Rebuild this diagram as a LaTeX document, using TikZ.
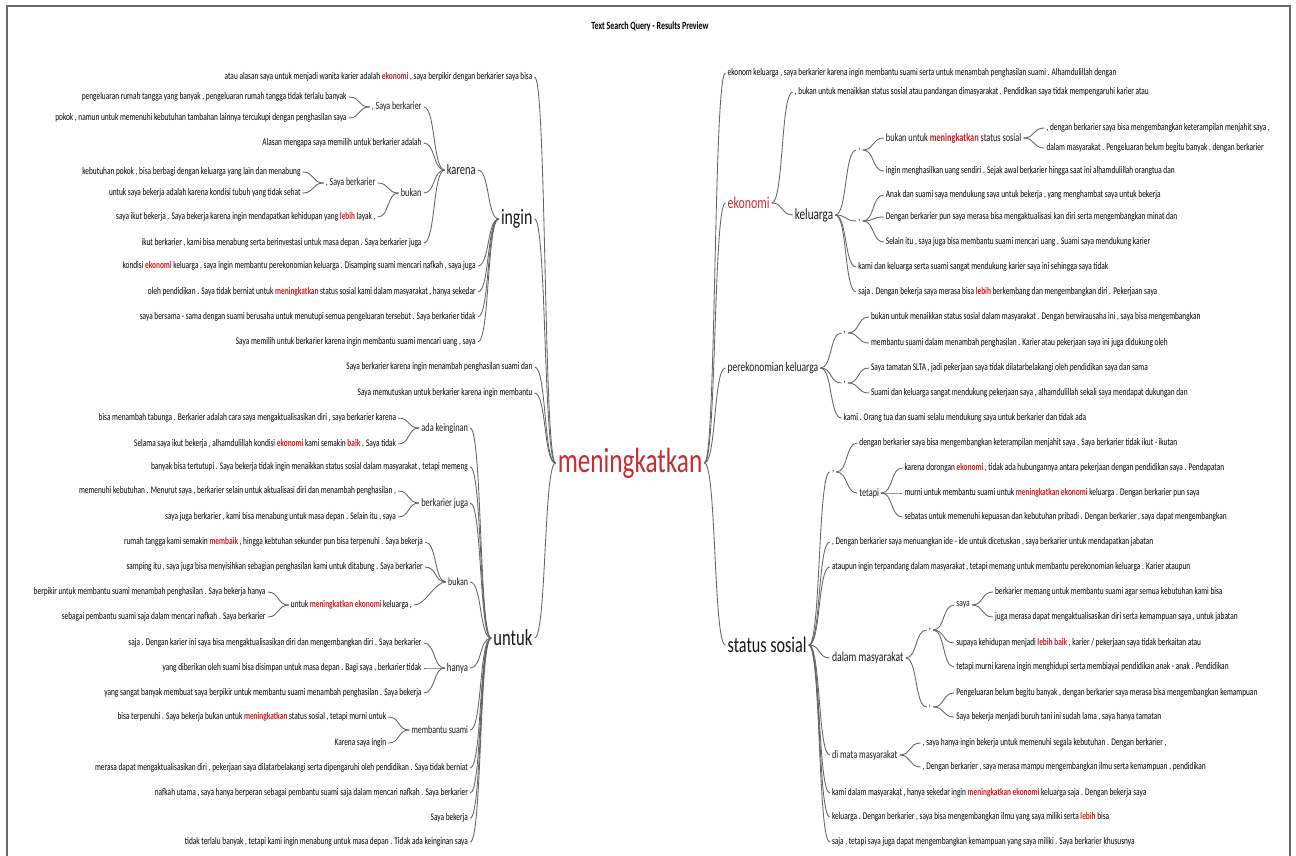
\documentclass[tikz,border=0pt]{standalone}
\usepackage{fontspec}
\setmainfont{Carlito}[FakeStretch=0.72]

\definecolor{hitred}{RGB}{200,30,35}
\definecolor{rootred}{RGB}{196,44,50}
\definecolor{linkgray}{RGB}{100,100,100}
\definecolor{framegray}{RGB}{105,105,105}

\newcommand{\hit}[1]{{\bfseries\color{hitred}#1}}

\begin{document}
\begin{tikzpicture}[
x=1pt, y=-1pt,
word/.style={
inner sep=2pt,
font=\fontsize{10.2}{12}\selectfont,
text=black
},
twig/.style={
inner sep=2pt,
font=\fontsize{11.5}{13}\selectfont,
text=black!90
},
rootword/.style={
inner sep=2pt,
font=\fontsize{35}{40}\selectfont,
text=rootred
},
toleft/.style={anchor=east, xshift=-21pt},
toright/.style={anchor=west, xshift=21pt},
link/.style={
draw=linkgray,
line width=0.85pt,
to path={.. controls +(12,0) and +(-12,0) .. (\tikztotarget)}
}
]

\useasboundingbox (0,0) rectangle (1296,856);

% frame and title
\draw[framegray, line width=1.5pt] (7,856) -- (7,6) -- (1290,6) -- (1290,856);
\node[font=\bfseries\fontsize{11}{13}\selectfont] (title) at (650,27) {Text Search Query - Results Preview};


% root
\node[rootword] (root) at (630,463) {meningkatkan};


% left side
\node[word,toleft] (l0) at (root.west |- 0,77) {atau alasan saya untuk menjadi wanita karier adalah \hit{ekonomi} , saya berpikir dengan berkarier saya bisa};
\node[twig,toleft,font=\fontsize{22}{24}\selectfont] (ingin) at (root.west |- 0,219) {ingin};
\node[word,toleft] (l12) at (root.west |- 0,367) {Saya berkarier karena ingin menambah penghasilan suami dan};
\node[word,toleft] (l13) at (root.west |- 0,393) {Saya memutuskan untuk berkarier karena ingin membantu};
\node[twig,toleft,font=\fontsize{23}{25}\selectfont] (untuk) at (root.west |- 0,638) {untuk};

% ingin
\node[twig,toleft,font=\fontsize{14.5}{16}\selectfont] (karena) at (ingin.west |- 0,170) {karena};
\node[word,toleft] (l8) at (ingin.west |- 0,266) {kondisi \hit{ekonomi} keluarga , saya ingin membantu perekonomian keluarga . Disamping suami mencari nafkah , saya juga};
\node[word,toleft] (l9) at (ingin.west |- 0,292) {oleh pendidikan . Saya tidak berniat untuk \hit{meningkatkan} status sosial kami dalam masyarakat , hanya sekedar};
\node[word,toleft] (l10) at (ingin.west |- 0,317) {saya bersama - sama dengan suami berusaha untuk menutupi semua pengeluaran tersebut . Saya berkarier tidak};
\node[word,toleft] (l11) at (ingin.west |- 0,342) {Saya memilih untuk berkarier karena ingin membantu suami mencari uang , saya};

% karena
\node[twig,toleft,font=\fontsize{11}{13}\selectfont] (sb1) at (karena.west |- 0,107) {, Saya berkarier};
\node[word,toleft] (l1) at (sb1.west |- 0,97) {pengeluaran rumah tangga yang banyak , pengeluaran rumah tangga tidak terlalu banyak};
\node[word,toleft] (l2) at (sb1.west |- 0,118) {pokok , namun untuk memenuhi kebutuhan tambahan lainnya tercukupi dengan penghasilan saya};
\node[word,toleft] (l3) at (karena.west |- 0,143) {Alasan mengapa saya memilih untuk berkarier adalah};
\node[twig,toleft] (bukan1) at (karena.west |- 0,193) {bukan};
\node[twig,toleft,font=\fontsize{11}{13}\selectfont] (sb2) at (bukan1.west |- 0,183) {, Saya berkarier};
\node[word,toleft] (l4) at (sb2.west |- 0,172) {kebutuhan pokok , bisa berbagi dengan keluarga yang lain dan menabung};
\node[word,toleft] (l5) at (sb2.west |- 0,193) {untuk saya bekerja adalah karena kondisi tubuh yang tidak sehat};
\node[word,toleft] (l6) at (bukan1.west |- 0,217) {saya ikut bekerja . Saya bekerja karena ingin mendapatkan kehidupan yang \hit{lebih} layak ,};
\node[word,toleft] (l7) at (karena.west |- 0,243) {ikut berkarier , kami bisa menabung serta berinvestasi untuk masa depan . Saya berkarier juga};

% untuk
\node[twig,toleft] (adak) at (untuk.west |- 0,428) {ada keinginan};
\node[word,toleft] (l14) at (adak.west |- 0,418) {bisa menambah tabunga . Berkarier adalah cara saya mengaktualisasikan diri , saya berkarier karena};
\node[word,toleft] (l15) at (adak.west |- 0,444) {Selama saya ikut bekerja , alhamdulillah kondisi \hit{ekonomi} kami semakin \hit{baik} . Saya tidak};
\node[word,toleft] (l16) at (untuk.west |- 0,467) {banyak bisa tertutupi . Saya bekerja tidak ingin menaikkan status sosial dalam masyarakat , tetapi memeng};
\node[twig,toleft] (bjuga) at (untuk.west |- 0,503) {berkarier juga};
\node[word,toleft] (l17) at (bjuga.west |- 0,491) {memenuhi kebutuhan . Menurut saya , berkarier selain untuk aktualisasi diri dan menambah penghasilan ,};
\node[word,toleft] (l18) at (bjuga.west |- 0,517) {saya juga berkarier , kami bisa menabung untuk masa depan . Selain itu , saya};
\node[twig,toleft,font=\fontsize{11}{13}\selectfont] (bukan2) at (untuk.west |- 0,582) {bukan};
\node[word,toleft] (l19) at (bukan2.west |- 0,542) {rumah tangga kami semakin \hit{membaik} , hingga kebtuhan sekunder pun bisa terpenuhi . Saya bekerja};
\node[word,toleft] (l20) at (bukan2.west |- 0,567) {samping itu , saya juga bisa menyisihkan sebagian penghasilan kami untuk ditabung . Saya berkarier};
\node[word,toleft,xshift=-11pt] (uk) at (bukan2.west |- 0,605) {untuk \hit{meningkatkan ekonomi} keluarga ,};
\node[word,toleft] (l21) at (uk.west |- 0,592) {berpikir untuk membantu suami menambah penghasilan . Saya bekerja hanya};
\node[word,toleft] (l22) at (uk.west |- 0,617) {sebagai pembantu suami saja dalam mencari nafkah . Saya berkarier};
\node[twig,toleft,font=\fontsize{12}{14}\selectfont] (hanya) at (untuk.west |- 0,668) {hanya};
\node[word,toleft] (l23) at (hanya.west |- 0,643) {saja . Dengan karier ini saya bisa mengaktualisasikan diri dan mengembangkan diri . Saya berkarier};
\node[word,toleft] (l24) at (hanya.west |- 0,668) {yang diberikan oleh suami bisa disimpan untuk masa depan . Bagi saya , berkarier tidak};
\node[word,toleft] (l25) at (hanya.west |- 0,693) {yang sangat banyak membuat saya berpikir untuk membantu suami menambah penghasilan . Saya bekerja};
\node[twig,toleft,font=\fontsize{11}{13}\selectfont] (msuami) at (untuk.west |- 0,730) {membantu suami};
\node[word,toleft] (l26) at (msuami.west |- 0,717) {bisa terpenuhi . Saya bekerja bukan untuk \hit{meningkatkan} status sosial , tetapi murni untuk};
\node[word,toleft] (l27) at (msuami.west |- 0,743) {Karena saya ingin};
\node[word,toleft] (l28) at (untuk.west |- 0,768) {merasa dapat mengaktualisasikan diri , pekerjaan saya dilatarbelakangi serta dipengaruhi oleh pendidikan . Saya tidak berniat};
\node[word,toleft] (l29) at (untuk.west |- 0,793) {nafkah utama , saya hanya berperan sebagai pembantu suami saja dalam mencari nafkah . Saya berkarier};
\node[word,toleft] (l30) at (untuk.west |- 0,818) {Saya bekerja};
\node[word,toleft] (l31) at (untuk.west |- 0,842) {tidak terlalu banyak , tetapi kami ingin menabung untuk masa depan . Tidak ada keinginan saya};


% right side
\node[word,toright] (r0) at (root.east |- 0,73) {ekonom keluarga , saya berkarier karena ingin membantu suami serta untuk menambah penghasilan suami . Alhamdulillah dengan};
\node[twig,toright,font=\fontsize{16.5}{18}\selectfont,text=rootred] (ekonomi) at (root.east |- 0,203) {ekonomi};
\node[twig,toright,font=\fontsize{13.2}{15}\selectfont] (perek) at (root.east |- 0,368) {perekonomian keluarga};
\node[twig,toright,font=\fontsize{22.4}{25}\selectfont] (status) at (root.east |- 0,645) {status sosial};

% ekonomi
\node[word,toright] (r1) at (ekonomi.east |- 0,92) {, bukan untuk menaikkan status sosial atau pandangan dimasyarakat . Pendidikan saya tidak mempengaruhi karier atau};
\node[twig,toright,font=\fontsize{15.5}{17}\selectfont] (keluarga) at (ekonomi.east |- 0,215) {keluarga};
\node[twig,toright] (cm1) at (keluarga.east |- 0,150) {,};
\node[twig,toright] (bl) at (cm1.east |- 0,138) {bukan untuk \hit{meningkatkan} status sosial};
\node[word,toright] (r2) at (bl.east |- 0,128) {, dengan berkarier saya bisa mengembangkan keterampilan menjahit saya ,};
\node[word,toright] (r3) at (bl.east |- 0,148) {dalam masyarakat . Pengeluaran belum begitu banyak , dengan berkarier};
\node[word,toright] (r4) at (cm1.east |- 0,171) {ingin menghasilkan uang sendiri . Sejak awal berkarier hingga saat ini alhamdulillah orangtua dan};
\node[twig,toright] (cm2) at (keluarga.east |- 0,221) {,};
\node[word,toright] (r5) at (cm2.east |- 0,195) {Anak dan suami saya mendukung saya untuk bekerja , yang menghambat saya untuk bekerja};
\node[word,toright] (r6) at (cm2.east |- 0,217) {Dengan berkarier pun saya merasa bisa mengaktualisasi kan diri serta mengembangkan minat dan};
\node[word,toright] (r7) at (cm2.east |- 0,242) {Selain itu , saya juga bisa membantu suami mencari uang . Suami saya mendukung karier};
\node[word,toright] (r8) at (keluarga.east |- 0,267) {kami dan keluarga serta suami sangat mendukung karier saya ini sehingga saya tidak};
\node[word,toright] (r9) at (keluarga.east |- 0,292) {saja . Dengan bekerja saya merasa bisa \hit{lebih} berkembang dan mengembangkan diri . Pekerjaan saya};

% perekonomian keluarga
\node[twig,toright] (cm3) at (perek.east |- 0,333) {,};
\node[word,toright] (r10) at (cm3.east |- 0,317) {bukan untuk menaikkan status sosial dalam masyarakat . Dengan berwirausaha ini , saya bisa mengembangkan};
\node[word,toright] (r11) at (cm3.east |- 0,343) {membantu suami dalam menambah penghasilan . Karier atau pekerjaan saya ini juga didukung oleh};
\node[twig,toright] (cm4) at (perek.east |- 0,383) {,};
\node[word,toright] (r12) at (cm4.east |- 0,368) {Saya tamatan SLTA , jadi pekerjaan saya tidak dilatarbelakangi oleh pendidikan saya dan sama};
\node[word,toright] (r13) at (cm4.east |- 0,393) {Suami dan keluarga sangat mendukung pekerjaan saya , alhamdulillah sekali saya mendapat dukungan dan};
\node[word,toright] (r14) at (perek.east |- 0,418) {kami . Orang tua dan suami selalu mendukung saya untuk berkarier dan tidak ada};

% status sosial
\node[twig,toright] (cm5) at (status.east |- 0,472) {,};
\node[word,toright] (r15) at (cm5.east |- 0,443) {dengan berkarier saya bisa mengembangkan keterampilan menjahit saya . Saya berkarier tidak ikut - ikutan};
\node[twig,toright] (tetapi) at (cm5.east |- 0,493) {tetapi};
\node[word,toright] (r16) at (tetapi.east |- 0,468) {karena dorongan \hit{ekonomi} , tidak ada hubungannya antara pekerjaan dengan pendidikan saya . Pendapatan};
\node[word,toright] (r17) at (tetapi.east |- 0,493) {murni untuk membantu suami untuk \hit{meningkatkan ekonomi} keluarga . Dengan berkarier pun saya};
\node[word,toright] (r18) at (tetapi.east |- 0,517) {sebatas untuk memenuhi kepuasan dan kebutuhan pribadi . Dengan berkarier , saya dapat mengembangkan};
\node[word,toright] (r19) at (status.east |- 0,542) {, Dengan berkarier saya menuangkan ide - ide untuk dicetuskan , saya berkarier untuk mendapatkan jabatan};
\node[word,toright] (r20) at (status.east |- 0,567) {ataupun ingin terpandang dalam masyarakat , tetapi memang untuk membantu perekonomian keluarga . Karier ataupun};
\node[twig,toright,font=\fontsize{13.5}{15}\selectfont] (dalam) at (status.east |- 0,658) {dalam masyarakat};
\node[twig,toright] (cm6) at (dalam.east |- 0,630) {,};
\node[twig,toright,font=\fontsize{10.5}{12}\selectfont] (saya) at (cm6.east |- 0,605) {saya};
\node[word,toright] (r21) at (saya.east |- 0,592) {berkarier memang untuk membantu suami agar semua kebutuhan kami bisa};
\node[word,toright] (r22) at (saya.east |- 0,617) {juga merasa dapat mengaktualisasikan diri serta kemampuan saya , untuk jabatan};
\node[word,toright] (r23) at (cm6.east |- 0,643) {supaya kehidupan menjadi \hit{lebih baik} , karier / pekerjaan saya tidak berkaitan atau};
\node[word,toright] (r24) at (cm6.east |- 0,667) {tetapi murni karena ingin menghidupi serta membiayai pendidikan anak - anak . Pendidikan};
\node[twig,toright] (cm7) at (dalam.east |- 0,707) {,};
\node[word,toright] (r25) at (cm7.east |- 0,693) {Pengeluaran belum begitu banyak , dengan berkarier saya merasa bisa mengembangkan kemampuan};
\node[word,toright] (r26) at (cm7.east |- 0,717) {Saya bekerja menjadi buruh tani ini sudah lama , saya hanya tamatan};
\node[twig,toright] (dimata) at (status.east |- 0,755) {di mata masyarakat};
\node[word,toright] (r27) at (dimata.east |- 0,743) {, saya hanya ingin bekerja untuk memenuhi segala kebutuhan . Dengan berkarier ,};
\node[word,toright] (r28) at (dimata.east |- 0,767) {, Dengan berkarier , saya merasa mampu mengembangkan ilmu serta kemampuan , pendidikan};
\node[word,toright] (r29) at (status.east |- 0,793) {kami dalam masyarakat , hanya sekedar ingin \hit{meningkatkan ekonomi} keluarga saja . Dengan bekerja saya};
\node[word,toright] (r30) at (status.east |- 0,817) {keluarga . Dengan berkarier , saya bisa mengembangkan ilmu yang saya miliki serta \hit{lebih} bisa};
\node[word,toright] (r31) at (status.east |- 0,842) {saja , tetapi saya juga dapat mengembangkan kemampuan yang saya miliki . Saya berkarier khususnya};


% links, left
\draw[link] (l0.east) to (root.west);
\draw[link] (ingin.east) to (root.west);
\draw[link] (l12.east) to (root.west);
\draw[link] (l13.east) to (root.west);
\draw[link] (untuk.east) to (root.west);

\draw[link] (karena.east) to (ingin.west);
\draw[link] (l8.east) to (ingin.west);
\draw[link] (l9.east) to (ingin.west);
\draw[link] (l10.east) to (ingin.west);
\draw[link] (l11.east) to (ingin.west);

\draw[link] (sb1.east) to (karena.west);
\draw[link] (l3.east) to (karena.west);
\draw[link] (bukan1.east) to (karena.west);
\draw[link] (l7.east) to (karena.west);
\draw[link] (l1.east) to (sb1.west);
\draw[link] (l2.east) to (sb1.west);
\draw[link] (sb2.east) to (bukan1.west);
\draw[link] (l6.east) to (bukan1.west);
\draw[link] (l4.east) to (sb2.west);
\draw[link] (l5.east) to (sb2.west);

\draw[link] (adak.east) to (untuk.west);
\draw[link] (l16.east) to (untuk.west);
\draw[link] (bjuga.east) to (untuk.west);
\draw[link] (bukan2.east) to (untuk.west);
\draw[link] (hanya.east) to (untuk.west);
\draw[link] (msuami.east) to (untuk.west);
\draw[link] (l28.east) to (untuk.west);
\draw[link] (l29.east) to (untuk.west);
\draw[link] (l30.east) to (untuk.west);
\draw[link] (l31.east) to (untuk.west);

\draw[link] (l14.east) to (adak.west);
\draw[link] (l15.east) to (adak.west);
\draw[link] (l17.east) to (bjuga.west);
\draw[link] (l18.east) to (bjuga.west);
\draw[link] (l19.east) to (bukan2.west);
\draw[link] (l20.east) to (bukan2.west);
\draw[link] (uk.east) to (bukan2.west);
\draw[link] (l21.east) to (uk.west);
\draw[link] (l22.east) to (uk.west);
\draw[link] (l23.east) to (hanya.west);
\draw[link] (l24.east) to (hanya.west);
\draw[link] (l25.east) to (hanya.west);
\draw[link] (l26.east) to (msuami.west);
\draw[link] (l27.east) to (msuami.west);


% links, right
\draw[link] (root.east) to (r0.west);
\draw[link] (root.east) to (ekonomi.west);
\draw[link] (root.east) to (perek.west);
\draw[link] (root.east) to (status.west);

\draw[link] (ekonomi.east) to (r1.west);
\draw[link] (ekonomi.east) to (keluarga.west);
\draw[link] (keluarga.east) to (cm1.west);
\draw[link] (keluarga.east) to (cm2.west);
\draw[link] (keluarga.east) to (r8.west);
\draw[link] (keluarga.east) to (r9.west);
\draw[link] (cm1.east) to (bl.west);
\draw[link] (cm1.east) to (r4.west);
\draw[link] (bl.east) to (r2.west);
\draw[link] (bl.east) to (r3.west);
\draw[link] (cm2.east) to (r5.west);
\draw[link] (cm2.east) to (r6.west);
\draw[link] (cm2.east) to (r7.west);

\draw[link] (perek.east) to (cm3.west);
\draw[link] (perek.east) to (cm4.west);
\draw[link] (perek.east) to (r14.west);
\draw[link] (cm3.east) to (r10.west);
\draw[link] (cm3.east) to (r11.west);
\draw[link] (cm4.east) to (r12.west);
\draw[link] (cm4.east) to (r13.west);

\draw[link] (status.east) to (cm5.west);
\draw[link] (status.east) to (r19.west);
\draw[link] (status.east) to (r20.west);
\draw[link] (status.east) to (dalam.west);
\draw[link] (status.east) to (dimata.west);
\draw[link] (status.east) to (r29.west);
\draw[link] (status.east) to (r30.west);
\draw[link] (status.east) to (r31.west);
\draw[link] (cm5.east) to (r15.west);
\draw[link] (cm5.east) to (tetapi.west);
\draw[link] (tetapi.east) to (r16.west);
\draw[link] (tetapi.east) to (r17.west);
\draw[link] (tetapi.east) to (r18.west);
\draw[link] (dalam.east) to (cm6.west);
\draw[link] (dalam.east) to (cm7.west);
\draw[link] (cm6.east) to (saya.west);
\draw[link] (cm6.east) to (r23.west);
\draw[link] (cm6.east) to (r24.west);
\draw[link] (saya.east) to (r21.west);
\draw[link] (saya.east) to (r22.west);
\draw[link] (cm7.east) to (r25.west);
\draw[link] (cm7.east) to (r26.west);
\draw[link] (dimata.east) to (r27.west);
\draw[link] (dimata.east) to (r28.west);

\end{tikzpicture}
\end{document}
